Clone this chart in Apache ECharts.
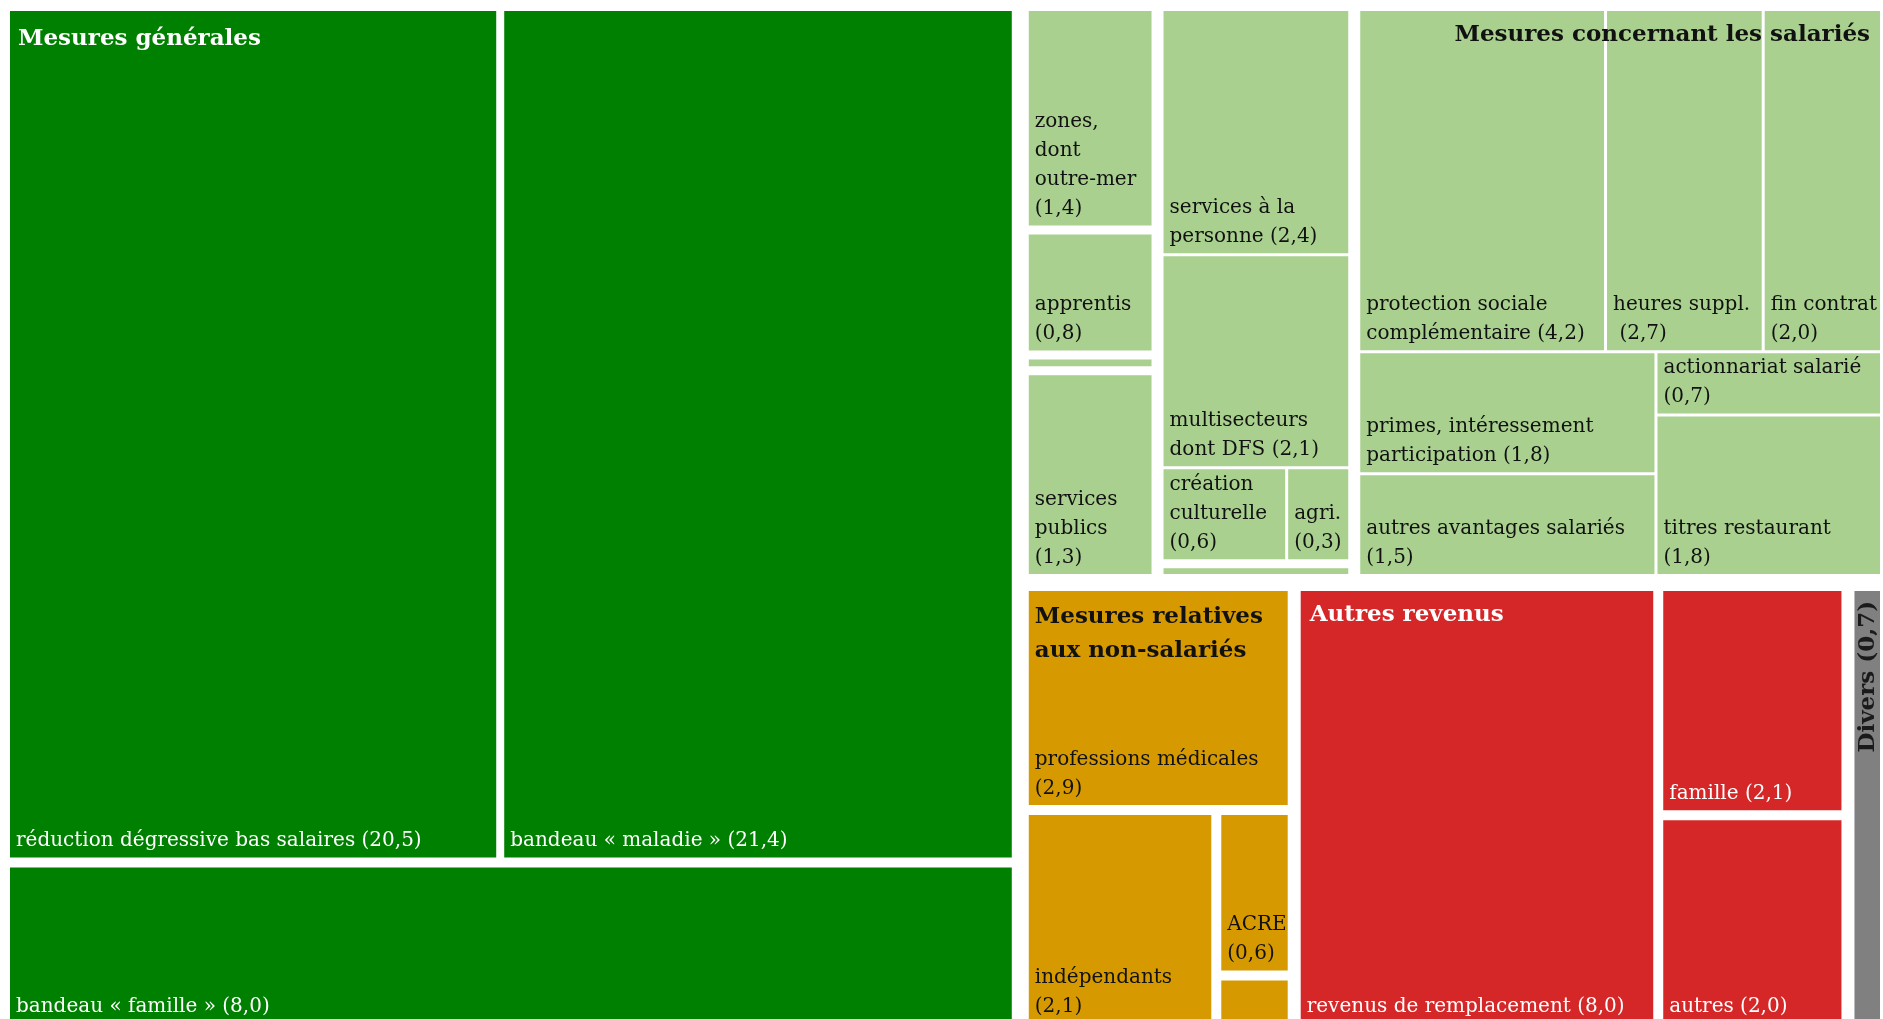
<!DOCTYPE html>
<html>
<head>
<meta charset="utf-8">
<script src="https://cdn.jsdelivr.net/npm/echarts@6/dist/echarts.min.js"></script>
<style>
html,body{margin:0;padding:0;background:#ffffff;}
#chart{width:1883px;height:1019px;}
</style>
</head>
<body>
<div id="chart"></div>
<script>
// ---------------- DATA ----------------
const groupTitles = ['Mesures générales', 'Mesures concernant les salariés', 'Mesures relatives\naux non-salariés', 'Autres revenus'];

const generalNames = ['réduction dégressive bas salaires ', 'bandeau « maladie » ', 'bandeau « famille » '];
const generalValues = [20.5, 21.4, 8.0];

const targetedNames1 = ['zones,\ndont\noutre-mer\n', 'apprentis\n', '', 'services\npublics\n'];
const targetedValues1 = [1.4, 0.8, 0.1, 1.3];

const targetedNames2 = ['services à la\npersonne ', 'multisecteurs\ndont DFS ', 'création\nculturelle\n', 'agri.\n', ''];
const targetedValues2 = [2.4, 2.1, 0.6, 0.3, 0.1];

const employeeNames = ['protection sociale\ncomplémentaire ', 'heures suppl.\n ', 'fin contrat\n',
  'primes, intéressement\nparticipation ', 'autres avantages salariés\n', 'actionnariat salarié\n', 'titres restaurant\n'];
const employeeValues = [4.2, 2.7, 2.0, 1.8, 1.5, 0.7, 1.8];

const selfEmployedNames = ['professions médicales\n', 'indépendants\n', 'ACRE\n', ''];
const selfEmployedValues = [2.9, 2.1, 0.6, 0.2];

const otherIncomeNames = ['revenus de remplacement ', 'famille ', 'autres '];
const otherIncomeValues = [8.0, 2.1, 2.0];

const miscNames = ['Divers '];
const miscValues = [0.7];

// ---------------- STYLE ----------------
const COLORS = {
  general: '#008000', employee: '#A9D08E', selfEmployed: '#D69A00', other: '#D62728', misc: '#808080'
};
const TEXT_COLORS = {
  general: '#ffffff', employee: '#111111', selfEmployed: '#111111', other: '#ffffff', misc: '#1a1a1a'
};
const LEAF_FONT = '20px "DejaVu Serif"';
const HEAD_FONT = 'bold 23px "DejaVu Serif"';
const HEAD_STYLE = {
  general: { align: 'left', dx: 8, dy: 13, lh: 30 },
  employee: { align: 'right', dx: -10, dy: 9, lh: 30 },
  selfEmployed: { align: 'left', dx: 6, dy: 9, lh: 34 },
  other: { align: 'left', dx: 9, dy: 9, lh: 30 }
};

// ---------------- TREE ----------------
function leaf(names, values, i, key, extra) {
  return Object.assign({ name: names[i], value: values[i], key }, extra || {});
}
// mode 'pad': gaps removed before proportional split; otherwise split then inset by half-gaps
function split(dir, gap, children, key, title, mode) {
  return { dir, gap, children, key, title, mode, value: children.reduce((s, c) => s + c.value, 0) };
}
const G = i => leaf(generalNames, generalValues, i, 'general');
const T1 = i => leaf(targetedNames1, targetedValues1, i, 'employee');
const T2 = i => leaf(targetedNames2, targetedValues2, i, 'employee');
const E = i => leaf(employeeNames, employeeValues, i, 'employee');
const S = i => leaf(selfEmployedNames, selfEmployedValues, i, 'selfEmployed');
const O = i => leaf(otherIncomeNames, otherIncomeValues, i, 'other');
const M = i => leaf(miscNames, miscValues, i, 'misc', { rotate: true });

const tree = split('h', 17, [
  split('v', 10, [split('h', 8, [G(0), G(1)], null, null, 'pad'), G(2)], 'general', groupTitles[0], 'pad'),
  split('v', 17, [
    split('h', 12, [
      split('v', 9, [T1(0), T1(1), T1(2), T1(3)]),
      split('v', 9, [split('v', 3, [T2(0), T2(1), split('h', 3, [T2(2), T2(3)])]), T2(4)]),
      split('v', 3, [
        split('h', 3, [E(0), E(1), E(2)]),
        split('h', 3, [split('v', 3, [E(3), E(4)]), split('v', 3, [E(5), E(6)])])
      ])
    ], 'employee', groupTitles[1]),
    split('h', 13, [
      split('v', 10, [S(0), split('h', 10, [S(1), split('v', 10, [S(2), S(3)])])], 'selfEmployed', groupTitles[2]),
      split('h', 10, [O(0), split('v', 10, [O(1), O(2)])], 'other', groupTitles[3]),
      M(0)
    ])
  ])
], null, null, 'pad');

// normalised slice-and-dice rectangles (value space, no gaps) -> series data
const leaves = [];
const heads = [];
(function norm(n, x0, y0, x1, y1) {
  n.norm = [x0, y0, x1, y1];
  if (n.title) heads.push(n);
  if (!n.children) { leaves.push(n); return; }
  let acc = 0;
  n.children.forEach(c => {
    const a = acc / n.value, b = (acc + c.value) / n.value;
    acc += c.value;
    if (n.dir === 'h') norm(c, x0 + (x1 - x0) * a, y0, x0 + (x1 - x0) * b, y1);
    else norm(c, x0, y0 + (y1 - y0) * a, x1, y0 + (y1 - y0) * b);
  });
})(tree, 0, 0, 1, 1);
const items = leaves.concat(heads);

// pixel layout inside the grid box obtained through the axes
function pixelLayout(api) {
  const a = api.coord([0, 0]), b = api.coord([1, 1]);
  const out = new Map();
  (function lay(n, x, y, w, h) {
    out.set(n, { x, y, w, h });
    if (!n.children) return;
    const horiz = n.dir === 'h';
    const len = horiz ? w : h;
    const k = n.children.length;
    let pos = horiz ? x : y;
    if (n.mode === 'pad') {
      const avail = len - n.gap * (k - 1);
      n.children.forEach(c => {
        const s = avail * c.value / n.value;
        if (horiz) lay(c, pos, y, s, h); else lay(c, x, pos, w, s);
        pos += s + n.gap;
      });
    } else {
      const g = n.gap / 2;
      n.children.forEach((c, i) => {
        const s = len * c.value / n.value;
        const s0 = pos + (i > 0 ? g : 0);
        const s1 = pos + s - (i < k - 1 ? g : 0);
        if (horiz) lay(c, s0, y, s1 - s0, h); else lay(c, x, s0, w, s1 - s0);
        pos += s;
      });
    }
  })(tree, a[0], a[1], b[0] - a[0], b[1] - a[1]);
  out.bottom = b[1];
  return out;
}

const fmt = v => '(' + v.toFixed(1).replace('.', ',') + ')';

function renderItem(params, api) {
  const ctx = params.context || {};
  if (!ctx.lay) ctx.lay = pixelLayout(api);
  const lay = ctx.lay;
  const n = items[params.dataIndex];
  const r = lay.get(n);
  const x = r.x, y = r.y, w = r.w, h = r.h;
  const children = [];
  if (!n.children) {
    children.push({ type: 'rect', shape: { x, y, width: w, height: h }, style: { fill: COLORS[n.key] } });
    if (n.name) {
      const label = n.name + fmt(n.value);
      if (n.rotate) {
        children.push({
          type: 'text', x: x + w / 2 + 1, y: y + 10, rotation: Math.PI / 2,
          style: { text: label, font: 'bold 23px "DejaVu Serif"', fill: TEXT_COLORS[n.key], align: 'right', verticalAlign: 'middle' }
        });
      } else {
        const atEdge = Math.abs(y + h - lay.bottom) < 1;
        children.push({
          type: 'text', x: x + 6, y: y + h - (atEdge ? 8 : 2),
          style: { text: label, font: LEAF_FONT, lineHeight: 29, fill: TEXT_COLORS[n.key], align: 'left', verticalAlign: 'bottom' }
        });
      }
    }
  } else {
    const hs = HEAD_STYLE[n.key];
    children.push({
      type: 'text', x: hs.align === 'left' ? x + hs.dx : x + w + hs.dx, y: y + hs.dy,
      style: { text: n.title, font: HEAD_FONT, lineHeight: hs.lh, fill: TEXT_COLORS[n.key], align: hs.align, verticalAlign: 'top' }
    });
  }
  return { type: 'group', children };
}

const chart = echarts.init(document.getElementById('chart'), null, { renderer: 'canvas' });
chart.setOption({
  animation: false,
  backgroundColor: '#ffffff',
  grid: { left: 10, right: 3, top: 11, height: 1018, containLabel: false, outerBoundsMode: 'none' },
  xAxis: { type: 'value', min: 0, max: 1, show: false },
  yAxis: { type: 'value', min: 0, max: 1, inverse: true, show: false },
  series: [{
    type: 'custom',
    renderItem,
    clip: false,
    encode: { x: [0, 2], y: [1, 3] },
    data: items.map(n => n.norm)
  }]
});
</script>
</body>
</html>
